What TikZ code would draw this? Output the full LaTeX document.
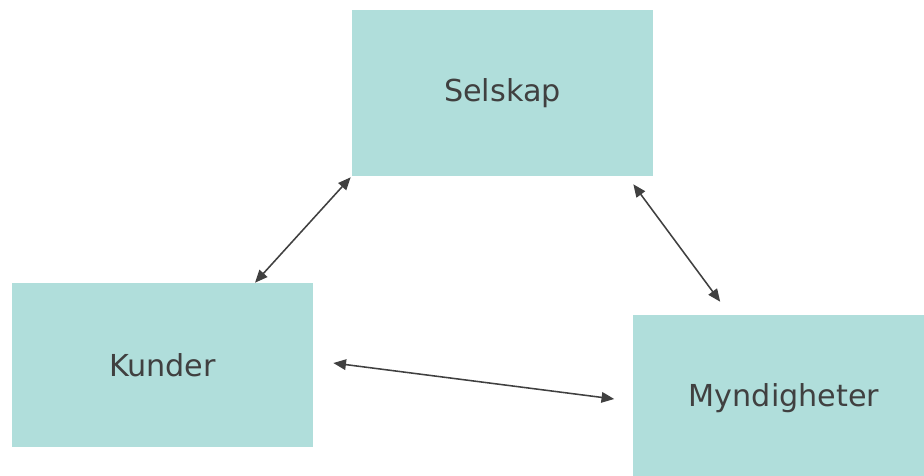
\documentclass[tikz,border=0pt]{standalone}
\usepackage{fontspec}
\setmainfont{DejaVu Sans}
\usepackage{xcolor}
\usetikzlibrary{arrows.meta, calc}
\definecolor{boxfill}{HTML}{B0DEDB}
\definecolor{ink}{HTML}{404040}
\tikzset{
linkTip/.tip={Triangle[length=9pt,width=7.5pt]}
}

\begin{document}
\begin{tikzpicture}[x=0.025cm, y=-0.025cm]
		\tikzset{party/.style = {shape=rectangle, fill=boxfill, minimum width=7.525cm, minimum height=4.15cm, inner sep=0pt, text=ink, font=\fontsize{21.5}{25}\selectfont}}
		\tikzset{edge/.style = {draw=ink, line width=1.1pt, linkTip-linkTip}}

		\clip (0,0) rectangle (924,475);
		\useasboundingbox (0,0) rectangle (924,475);

		\node[party] (S) at (502.5,93) {Selskap};
		\node[party, minimum height=4.1cm] (K) at (162.5,365) {Kunder};
		\node[party] (M) at (784,398) {Myndigheter};

		% ends of the arrows, kept a little off the boxes
		\coordinate (s1) at ($(S.south west)+(-1,1)$);
		\coordinate (k1) at ($(K.north)+(92.5,0)$);
		\coordinate (s2) at ($(S.south east)+(-20,8)$);
		\coordinate (m2) at ($(M.north west)+(87,-13)$);
		\coordinate (k3) at ($(K.east)+(20,-2)$);
		\coordinate (m3) at ($(M.west)+(-19,1)$);

		\draw[edge] (s1) to (k1);
		\draw[edge] (s2) to (m2);
		\draw[edge] (k3) to (m3);

	\end{tikzpicture}
\end{document}
